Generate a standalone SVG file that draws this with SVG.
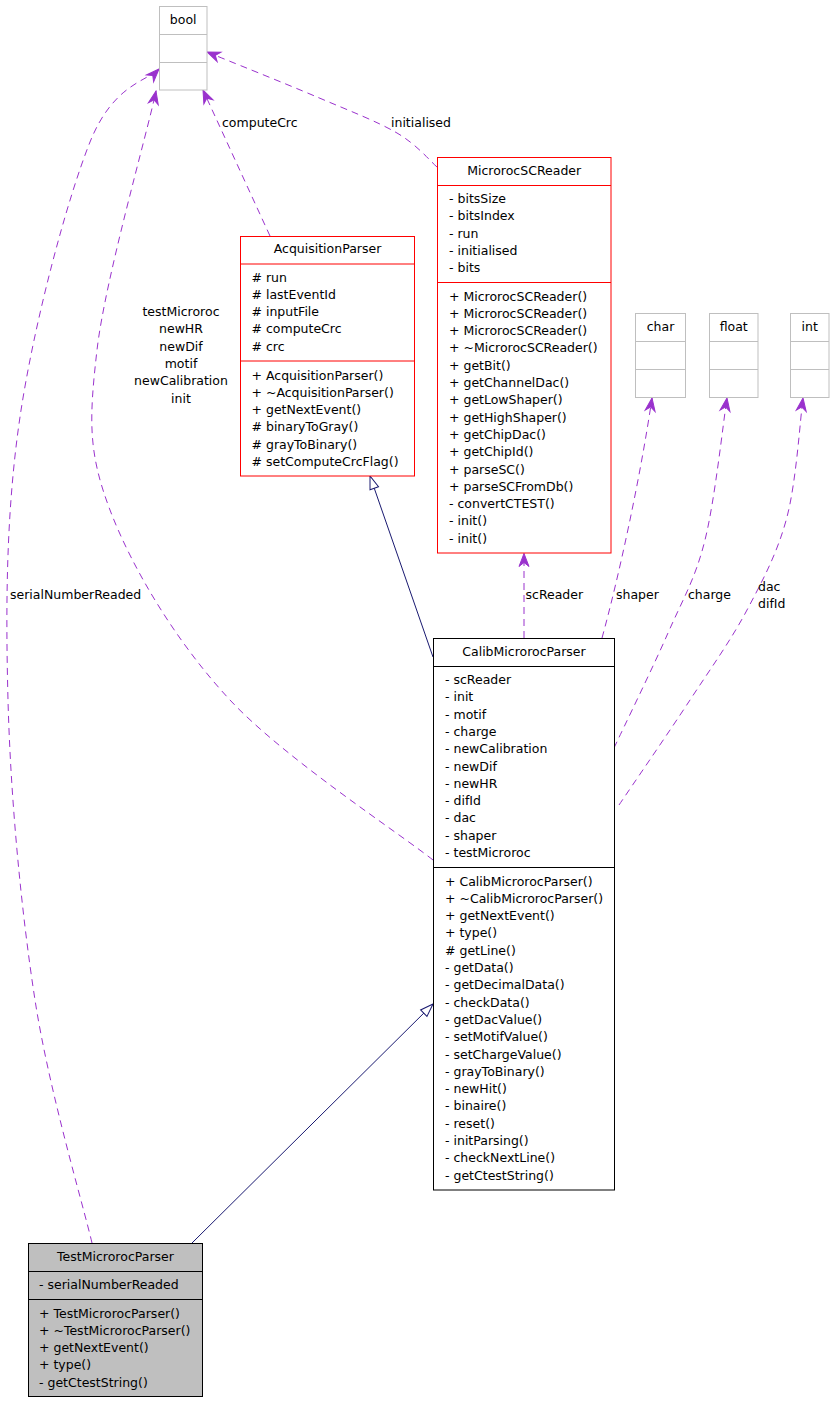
<svg xmlns="http://www.w3.org/2000/svg" width="834" height="1403" viewBox="0 0 834 1403">
<style>
text{font-family:"DejaVu Sans","Liberation Sans",sans-serif;font-size:12.5px;fill:#000}
.t{text-anchor:middle}
.c{text-anchor:middle}
.box{fill:#fff;stroke-width:1}
.gray{stroke:#bfbfbf}
.red{stroke:#ff0000}
.blk{stroke:#000}
.sep{stroke-width:1;fill:none}
.dep{fill:none;stroke:#9a32cd;stroke-width:1;stroke-dasharray:7,5;marker-end:url(#vee)}
.inh{fill:none;stroke:#191970;stroke-width:1;marker-end:url(#tri)}
</style>
<defs>
<marker id="vee" viewBox="-15 -7 16 14" refX="0" refY="0" markerWidth="16" markerHeight="14" markerUnits="userSpaceOnUse" orient="auto">
<path d="M0,0 L-13,-5 L-9,0 L-13,5 Z" fill="#9a32cd" stroke="#9a32cd" stroke-width="1"/>
</marker>
<marker id="tri" viewBox="-15 -7 16 14" refX="0" refY="0" markerWidth="16" markerHeight="14" markerUnits="userSpaceOnUse" orient="auto">
<path d="M0,0 L-13,-4.5 L-13,4.5 Z" fill="#fff" stroke="#191970" stroke-width="1"/>
</marker>
</defs>
<rect width="834" height="1403" fill="#fff"/>

<g id="connectors">
<path class="dep" d="M92,1243 C82.5,1202.5 49,1090.5 35,1000 C21,909.5 10.5,797 8,700 C5.5,603 6.3,510 20,417 C33.7,324 66.8,200 90,142 C113.2,84 147.5,81 159,69"/>
<path class="dep" d="M433,860 C399,833 284,758 230,700 C176,642 132,568 110,510 C88,452 89,420 97,350 C105,280 147,134 156,91"/>
<path class="dep" d="M270,236 L203,90"/>
<path class="dep" d="M437,167 C430.3,161.3 417,144.7 397,133 C377,121.3 348.7,110.5 317,97 C285.3,83.5 225.3,59.5 207,52"/>
<path class="dep" d="M524,638 L524,553.5"/>
<path class="dep" d="M602,638 C618,580 640,480 652,398"/>
<path class="dep" d="M614,748 C623,728.8 652.8,667.7 668,633 C683.2,598.3 695.2,579.2 705,540 C714.8,500.8 723.3,421.7 727,398"/>
<path class="dep" d="M619,805 C630.8,787.5 668.7,732.5 690,700 C711.3,667.5 730.8,640.5 747,610 C763.2,579.5 777.7,552.3 787,517 C796.3,481.7 800.3,417.8 803,398"/>
<path class="inh" d="M433,657 L370,476"/>
<path class="inh" d="M192,1243 L433,1004"/>
<text x="10" y="599">serialNumberReaded</text>
<text class="c" x="181" y="316">testMicroroc</text>
<text class="c" x="181" y="333.3">newHR</text>
<text class="c" x="181" y="350.6">newDif</text>
<text class="c" x="181" y="368">motif</text>
<text class="c" x="181" y="385.3">newCalibration</text>
<text class="c" x="181" y="402.6">init</text>
<text x="222" y="127">computeCrc</text>
<text x="391" y="127">initialised</text>
<text x="525.5" y="599">scReader</text>
<text x="616" y="599">shaper</text>
<text x="688" y="599">charge</text>
<text x="758" y="591">dac</text>
<text x="758" y="608">difId</text>
</g>

<g id="bool">
<rect class="box gray" x="159.5" y="6.5" width="47.5" height="83.5"/>
<path class="sep gray" d="M159.5,34.5 H207 M159.5,62.5 H207"/>
<text class="t" x="183.2" y="23.5">bool</text>
</g>

<g id="char">
<rect class="box gray" x="635.5" y="313.5" width="50" height="84"/>
<path class="sep gray" d="M635.5,341.5 H685.5 M635.5,369.5 H685.5"/>
<text class="t" x="660.5" y="330.7">char</text>
</g>

<g id="float">
<rect class="box gray" x="709.5" y="313.5" width="48.5" height="84"/>
<path class="sep gray" d="M709.5,341.5 H758 M709.5,369.5 H758"/>
<text class="t" x="733.7" y="330.7">float</text>
</g>

<g id="int">
<rect class="box gray" x="790.5" y="313.5" width="38.5" height="84"/>
<path class="sep gray" d="M790.5,341.5 H829 M790.5,369.5 H829"/>
<text class="t" x="809.7" y="330.7">int</text>
</g>

<g id="AcquisitionParser">
<rect class="box red" x="240.5" y="236.5" width="174" height="239.5"/>
<path class="sep red" d="M240.5,264 H414.5 M240.5,361 H414.5"/>
<text class="t" x="327.5" y="253">AcquisitionParser</text>
<text x="251.5" y="281.5"># run</text>
<text x="251.5" y="298.8"># lastEventId</text>
<text x="251.5" y="316.1"># inputFile</text>
<text x="251.5" y="333.4"># computeCrc</text>
<text x="251.5" y="350.7"># crc</text>
<text x="251.5" y="379.5">+ AcquisitionParser()</text>
<text x="251.5" y="396.8">+ ~AcquisitionParser()</text>
<text x="251.5" y="414.1">+ getNextEvent()</text>
<text x="251.5" y="431.4"># binaryToGray()</text>
<text x="251.5" y="448.7"># grayToBinary()</text>
<text x="251.5" y="466"># setComputeCrcFlag()</text>
</g>

<g id="MicrorocSCReader">
<rect class="box red" x="437.5" y="157.5" width="173.5" height="395.5"/>
<path class="sep red" d="M437.5,185.5 H611 M437.5,282.5 H611"/>
<text class="t" x="524.2" y="174.5">MicrorocSCReader</text>
<text x="449" y="203">- bitsSize</text>
<text x="449" y="220.3">- bitsIndex</text>
<text x="449" y="237.6">- run</text>
<text x="449" y="254.9">- initialised</text>
<text x="449" y="272.2">- bits</text>
<text x="449" y="300.5">+ MicrorocSCReader()</text>
<text x="449" y="317.8">+ MicrorocSCReader()</text>
<text x="449" y="335.1">+ MicrorocSCReader()</text>
<text x="449" y="352.4">+ ~MicrorocSCReader()</text>
<text x="449" y="369.7">+ getBit()</text>
<text x="449" y="387">+ getChannelDac()</text>
<text x="449" y="404.3">+ getLowShaper()</text>
<text x="449" y="421.6">+ getHighShaper()</text>
<text x="449" y="438.9">+ getChipDac()</text>
<text x="449" y="456.2">+ getChipId()</text>
<text x="449" y="473.5">+ parseSC()</text>
<text x="449" y="490.8">+ parseSCFromDb()</text>
<text x="449" y="508.1">- convertCTEST()</text>
<text x="449" y="525.4">- init()</text>
<text x="449" y="542.7">- init()</text>
</g>

<g id="CalibMicrorocParser">
<rect class="box blk" x="433.5" y="638.5" width="181" height="551.5"/>
<path class="sep blk" d="M433.5,666.5 H614.5 M433.5,867.5 H614.5"/>
<text class="t" x="524" y="655.7">CalibMicrorocParser</text>
<text x="445" y="684">- scReader</text>
<text x="445" y="701.3">- init</text>
<text x="445" y="718.6">- motif</text>
<text x="445" y="735.9">- charge</text>
<text x="445" y="753.2">- newCalibration</text>
<text x="445" y="770.5">- newDif</text>
<text x="445" y="787.8">- newHR</text>
<text x="445" y="805.1">- difId</text>
<text x="445" y="822.4">- dac</text>
<text x="445" y="839.7">- shaper</text>
<text x="445" y="857">- testMicroroc</text>
<text x="445" y="885.5">+ CalibMicrorocParser()</text>
<text x="445" y="902.8">+ ~CalibMicrorocParser()</text>
<text x="445" y="920.1">+ getNextEvent()</text>
<text x="445" y="937.4">+ type()</text>
<text x="445" y="954.7"># getLine()</text>
<text x="445" y="972">- getData()</text>
<text x="445" y="989.3">- getDecimalData()</text>
<text x="445" y="1006.6">- checkData()</text>
<text x="445" y="1023.9">- getDacValue()</text>
<text x="445" y="1041.2">- setMotifValue()</text>
<text x="445" y="1058.5">- setChargeValue()</text>
<text x="445" y="1075.8">- grayToBinary()</text>
<text x="445" y="1093.1">- newHit()</text>
<text x="445" y="1110.4">- binaire()</text>
<text x="445" y="1127.7">- reset()</text>
<text x="445" y="1145">- initParsing()</text>
<text x="445" y="1162.3">- checkNextLine()</text>
<text x="445" y="1179.6">- getCtestString()</text>
</g>

<g id="TestMicrorocParser">
<rect class="blk" x="28.5" y="1243.5" width="174" height="153" fill="#bfbfbf" stroke-width="1"/>
<path class="sep blk" d="M28.5,1271.5 H202.5 M28.5,1299.5 H202.5"/>
<text class="t" x="115.5" y="1260.5">TestMicrorocParser</text>
<text x="39" y="1289">- serialNumberReaded</text>
<text x="39" y="1317.5">+ TestMicrorocParser()</text>
<text x="39" y="1334.8">+ ~TestMicrorocParser()</text>
<text x="39" y="1352.1">+ getNextEvent()</text>
<text x="39" y="1369.4">+ type()</text>
<text x="39" y="1386.7">- getCtestString()</text>
</g>
</svg>
